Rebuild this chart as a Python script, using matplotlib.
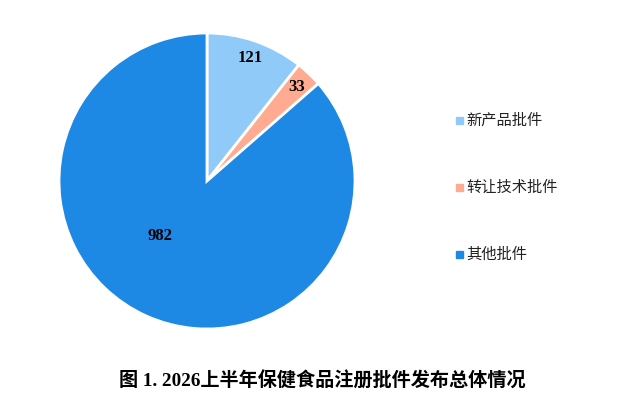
import matplotlib
matplotlib.use("Agg")
import matplotlib.pyplot as plt
import numpy as np

plt.rcParams['font.family'] = ['Noto Sans CJK SC', 'DejaVu Sans']

categories = ['新产品批件', '转让技术批件', '其他批件']
values = [121, 33, 982]
colors = ['#90CAF9', '#FFAB91', '#1E88E5']
label_r = [0.88, 0.88, 0.49]
label_dang = [0, 0, -16]
title = '图 1. 2026上半年保健食品注册批件发布总体情况'

W, H = 633, 397
fig = plt.figure(figsize=(W/100, H/100), dpi=100)
cx, cy, r = 207, 181, 148
ax = fig.add_axes([(cx - r)/W, 1 - (cy + r)/H, 2*r/W, 2*r/H])
wedges, _ = ax.pie(values, colors=colors, startangle=90, counterclock=False,
                   radius=1, wedgeprops=dict(edgecolor='white', linewidth=2))
ax.set_xlim(-1, 1); ax.set_ylim(-1, 1)
ax.set_aspect('auto')
ax.axis('off')

for w, v, lr, da in zip(wedges, values, label_r, label_dang):
    ang = np.deg2rad((w.theta1 + w.theta2) / 2 + da)
    ax.text(lr*np.cos(ang), lr*np.sin(ang), str(v), ha='center', va='center',
            fontsize=12, fontweight='bold', family=['Liberation Serif'], color='black')

ys = [120, 187, 254]
for cat, col, y in zip(categories, colors, ys):
    fig.patches.append(plt.Rectangle(((456)/W, 1 - (y + 3.5)/H), 7/W, 7/H,
                                     transform=fig.transFigure, color=col))
    fig.text(466/W, 1 - y/H, cat, ha='left', va='center', fontsize=11, color='#222222')

fig.text(322/W, 1 - 381/H, title, ha='center', va='center', fontsize=13.8, fontweight='bold',
         family=['Liberation Serif', 'Noto Sans CJK SC'])

fig.savefig('out.png', dpi=100)
